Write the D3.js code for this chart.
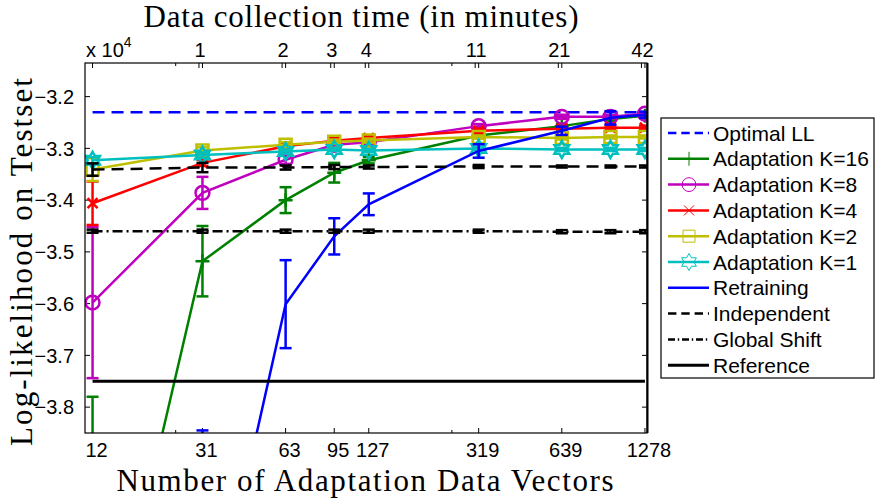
<!DOCTYPE html>
<html>
<head>
<meta charset="utf-8">
<script src="https://cdn.jsdelivr.net/npm/d3@7"></script>
<style>
  body { margin: 0; background: #fff; }
  svg { display: block; }
</style>
</head>
<body>
<svg id="chart" width="876" height="499"></svg>
<script>
// x values: number of adaptation data vectors
const vectors = [12.78, 31.95, 63.9, 95.85, 127.8, 319.5, 639, 958.5, 1278]
const bottomTicks = [12.78, 31.95, 63.9, 95.85, 127.8, 319.5, 639, 1278]
const bottomTickLabels = ['12', '31', '63', '95', '127', '319', '639', '1278']
const minorTicks = [25.56, 255.6]
// top axis: data collection time in minutes
const minuteTicks = [1.05, 2.1, 3.15, 4.2, 10.5, 21, 42]
const minuteTickLabels = ['1', '2', '3', '4', '11', '21', '42']
const yTicks = [-3.2, -3.3, -3.4, -3.5, -3.6, -3.7, -3.8]

// constant reference lines
const optimalLL = -3.23
const referenceLL = -3.75

// series values and error bar half-heights
const adapt16 = [-4.43, -3.518, -3.400, -3.347, -3.323, -3.275, -3.257, -3.243, -3.237]
const adapt16Err = [0.65, 0.068, 0.025, 0.019, 0.006, 0.005, 0.004, 0.004, 0.004]
const adapt8 = [-3.598, -3.386, -3.322, -3.293, -3.288, -3.257, -3.239, -3.239, -3.233]
const adapt8Err = [0.146, 0.031, 0.008, 0.005, 0.005, 0.004, 0.004, 0.003, 0.003]
const adapt4 = [-3.406, -3.328, -3.296, -3.285, -3.280, -3.266, -3.262, -3.260, -3.260]
const adapt4Err = [0.042, 0.006, 0.005, 0.005, 0.004, 0.004, 0.004, 0.004, 0.004]
const adapt2 = [-3.341, -3.304, -3.293, -3.287, -3.285, -3.278, -3.280, -3.278, -3.278]
const adapt2Err = [0.022, 0.006, 0.005, 0.004, 0.004, 0.003, 0.003, 0.003, 0.003]
const adapt1 = [-3.323, -3.313, -3.306, -3.302, -3.304, -3.300, -3.302, -3.302, -3.302]
const adapt1Err = [0.006, 0.005, 0.004, 0.003, 0.003, 0.003, 0.003, 0.003, 0.003]
const retrain = [null, -4.318, -3.601, -3.470, -3.408, -3.305, -3.266, -3.241, -3.235]
const retrainErr = [null, 0.473, 0.085, 0.035, 0.021, 0.013, 0.008, 0.013, 0.006]
const independent = [-3.341, -3.337, -3.337, -3.336, -3.336, -3.335, -3.335, -3.335, -3.335]
const independentErr = [0.012, 0.009, 0.004, 0.004, 0.003, 0.003, 0.002, 0.002, 0.002]
const globalShift = [-3.460, -3.460, -3.460, -3.460, -3.460, -3.460, -3.461, -3.461, -3.461]
const globalShiftErr = [0.003, 0.003, 0.003, 0.003, 0.003, 0.003, 0.003, 0.003, 0.003]

function makeChart() {
  const svg = d3.select('#chart')
  const box = { left: 85, right: 647, top: 63, bottom: 433 }
  const tickFont = '"Liberation Sans", Arial, sans-serif'
  const serif = '"Liberation Serif", "Times New Roman", serif'

  // log scale on the vector count
  const x = d3.scaleLog().domain([12, 1300]).range([box.left, box.right])
  const y = d3.scaleLinear().domain([-3.85, -3.135]).range([box.bottom, box.top])
  // the time axis on top sits a few pixels left of the bottom one
  const perMinute = 1278 / 42
  const xTop = d3.scaleLog()
    .domain([12 / perMinute, 1300 / perMinute])
    .range([box.left - 3.5, box.right - 3.5])

  svg.append('clipPath').attr('id', 'clip')
    .append('rect')
    .attr('x', box.left).attr('y', box.top)
    .attr('width', box.right - box.left).attr('height', box.bottom - box.top)

  // tick marks, all pointing inward
  const ticks = svg.append('g').attr('stroke', '#000').attr('stroke-width', 1)
  bottomTicks.forEach(v => {
    ticks.append('line').attr('x1', x(v)).attr('x2', x(v)).attr('y1', box.bottom).attr('y2', box.bottom - 5)
    ticks.append('line').attr('x1', x(v)).attr('x2', x(v)).attr('y1', box.top).attr('y2', box.top + 5)
  })
  minorTicks.forEach(v => {
    ticks.append('line').attr('x1', x(v)).attr('x2', x(v)).attr('y1', box.bottom).attr('y2', box.bottom - 3)
    ticks.append('line').attr('x1', x(v)).attr('x2', x(v)).attr('y1', box.top).attr('y2', box.top + 3)
  })
  minuteTicks.forEach(v => {
    ticks.append('line').attr('x1', xTop(v)).attr('x2', xTop(v)).attr('y1', box.top).attr('y2', box.top + 5)
  })
  yTicks.forEach(v => {
    ticks.append('line').attr('x1', box.left).attr('x2', box.left + 5).attr('y1', y(v)).attr('y2', y(v))
    ticks.append('line').attr('x1', box.right).attr('x2', box.right - 5).attr('y1', y(v)).attr('y2', y(v))
  })

  // tick labels
  svg.append('g').selectAll('text')
    .data(bottomTicks)
    .join('text')
    .attr('x', d => x(d) + 4)
    .attr('y', 457)
    .attr('text-anchor', 'middle')
    .style('font', `20px ${tickFont}`)
    .text((d, i) => bottomTickLabels[i])

  svg.append('g').selectAll('text')
    .data(minuteTicks)
    .join('text')
    .attr('x', d => xTop(d) + 1)
    .attr('y', 57)
    .attr('text-anchor', 'middle')
    .style('font', `20px ${tickFont}`)
    .text((d, i) => minuteTickLabels[i])

  svg.append('g').selectAll('text')
    .data(yTicks)
    .join('text')
    .attr('x', 74)
    .attr('y', d => y(d))
    .attr('dy', '0.36em')
    .attr('text-anchor', 'end')
    .style('font', `20px ${tickFont}`)
    .text(d => d3.format('.1f')(d).replace('-', '\u2212'))

  // exponent of the y axis
  const expo = svg.append('text').attr('x', 86).attr('y', 57).style('font', `20px ${tickFont}`)
  expo.append('tspan').text('x 10')
  expo.append('tspan').attr('dy', -10).style('font-size', '14px').text('4')

  // axis titles
  svg.append('text')
    .attr('x', 361).attr('y', 27)
    .attr('text-anchor', 'middle')
    .attr('textLength', 435).attr('lengthAdjust', 'spacing')
    .style('font', `31px ${serif}`)
    .text('Data collection time (in minutes)')
  svg.append('text')
    .attr('x', 365).attr('y', 491)
    .attr('text-anchor', 'middle')
    .attr('textLength', 497).attr('lengthAdjust', 'spacing')
    .style('font', `31px ${serif}`)
    .text('Number of Adaptation Data Vectors')
  svg.append('text')
    .attr('transform', 'translate(32,262) rotate(-90)')
    .attr('text-anchor', 'middle')
    .attr('textLength', 368).attr('lengthAdjust', 'spacing')
    .style('font', `31px ${serif}`)
    .text('Log-likelihood on Testset')

  // marker shapes
  function hexagram(r) {
    const pts = d3.range(12).map(i => {
      const a = (-90 + i * 30) * Math.PI / 180
      const rr = i % 2 === 0 ? r : r / Math.sqrt(3)
      return [rr * Math.cos(a), rr * Math.sin(a)]
    })
    return 'M' + pts.map(p => p.join(',')).join('L') + 'Z'
  }
  const markers = {
    plus: 'M-7,0L7,0M0,-7L0,7',
    circle: d3.symbol(d3.symbolCircle, 150)(),
    cross: 'M-5,-5L5,5M-5,5L5,-5',
    square: 'M-6,-6L6,-6L6,6L-6,6Z',
    hexagram: hexagram(8.5)
  }

  const series = [
    { name: 'Optimal LL', color: '#0000ff', dash: '12,7', values: vectors.map(() => optimalLL) },
    { name: 'Adaptation K=16', color: '#008000', values: adapt16, err: adapt16Err, marker: 'plus' },
    { name: 'Adaptation K=8', color: '#bf00bf', values: adapt8, err: adapt8Err, marker: 'circle' },
    { name: 'Adaptation K=4', color: '#ff0000', values: adapt4, err: adapt4Err, marker: 'cross' },
    { name: 'Adaptation K=2', color: '#bfbf00', values: adapt2, err: adapt2Err, marker: 'square' },
    { name: 'Adaptation K=1', color: '#00bfbf', values: adapt1, err: adapt1Err, marker: 'hexagram' },
    { name: 'Retraining', color: '#0000ff', values: retrain, err: retrainErr },
    { name: 'Independent', color: '#000', dash: '12,7', values: independent, err: independentErr },
    { name: 'Global Shift', color: '#000', dash: '10,4,2,4', values: globalShift, err: globalShiftErr },
    { name: 'Reference', color: '#000', width: 3, values: vectors.map(() => referenceLL) }
  ]

  const plot = svg.append('g').attr('clip-path', 'url(#clip)')
  const line = d3.line()
    .defined(d => d[1] !== null)
    .x(d => x(d[0]))
    .y(d => y(d[1]))

  series.forEach(s => {
    const pts = vectors.map((v, i) => [v, s.values[i], s.err ? s.err[i] : null])
      .filter(d => d[1] !== null)
    const g = plot.append('g')
    g.append('path')
      .attr('d', line(pts))
      .attr('fill', 'none')
      .attr('stroke', s.color)
      .attr('stroke-width', s.width || 2.5)
      .attr('stroke-dasharray', s.dash || null)
    if (s.err) {
      // error bars with caps
      const bars = g.selectAll('.bar').data(pts).join('g').attr('class', 'bar')
        .attr('stroke', s.color).attr('stroke-width', 2.5)
      bars.append('line')
        .attr('x1', d => x(d[0])).attr('x2', d => x(d[0]))
        .attr('y1', d => y(d[1] - d[2])).attr('y2', d => y(d[1] + d[2]))
      bars.append('line')
        .attr('x1', d => x(d[0]) - 6).attr('x2', d => x(d[0]) + 6)
        .attr('y1', d => y(d[1] + d[2])).attr('y2', d => y(d[1] + d[2]))
      bars.append('line')
        .attr('x1', d => x(d[0]) - 6).attr('x2', d => x(d[0]) + 6)
        .attr('y1', d => y(d[1] - d[2])).attr('y2', d => y(d[1] - d[2]))
    }
    if (s.marker) {
      g.selectAll('.mk').data(pts).join('path').attr('class', 'mk')
        .attr('transform', d => `translate(${x(d[0])},${y(d[1])})`)
        .attr('d', markers[s.marker])
        .attr('fill', 'none')
        .attr('stroke', s.color)
        .attr('stroke-width', 2.5)
    }
  })

  // axes box
  svg.append('rect')
    .attr('x', box.left).attr('y', box.top)
    .attr('width', box.right - box.left).attr('height', box.bottom - box.top)
    .attr('fill', 'none').attr('stroke', '#000').attr('stroke-width', 1.2)
  svg.append('line')
    .attr('x1', box.right + 0.5).attr('x2', box.right + 0.5)
    .attr('y1', box.top).attr('y2', box.bottom)
    .attr('stroke', '#000').attr('stroke-width', 2)

  // legend
  const legend = svg.append('g')
  legend.append('rect')
    .attr('x', 661).attr('y', 118).attr('width', 213).attr('height', 260)
    .attr('fill', '#fff').attr('stroke', '#000').attr('stroke-width', 1.2)
  const rows = legend.selectAll('.row').data(series).join('g').attr('class', 'row')
    .attr('transform', (d, i) => `translate(0,${133 + i * 25.8})`)
  rows.append('line')
    .attr('x1', 668).attr('x2', 709)
    .attr('stroke', d => d.color)
    .attr('stroke-width', d => d.width || 2.5)
    .attr('stroke-dasharray', d => d.dash ? d.dash.split(',').map(v => v * 0.7).join(',') : null)
  rows.filter(d => d.marker).append('path')
    .attr('transform', 'translate(689,0)')
    .attr('d', d => markers[d.marker])
    .attr('fill', 'none')
    .attr('stroke', d => d.color)
    .attr('stroke-width', 1)
  rows.append('text')
    .attr('x', 713).attr('dy', '0.36em')
    .style('font', `21px ${tickFont}`)
    .text(d => d.name)
}

window.onload = makeChart
</script>
</body>
</html>
